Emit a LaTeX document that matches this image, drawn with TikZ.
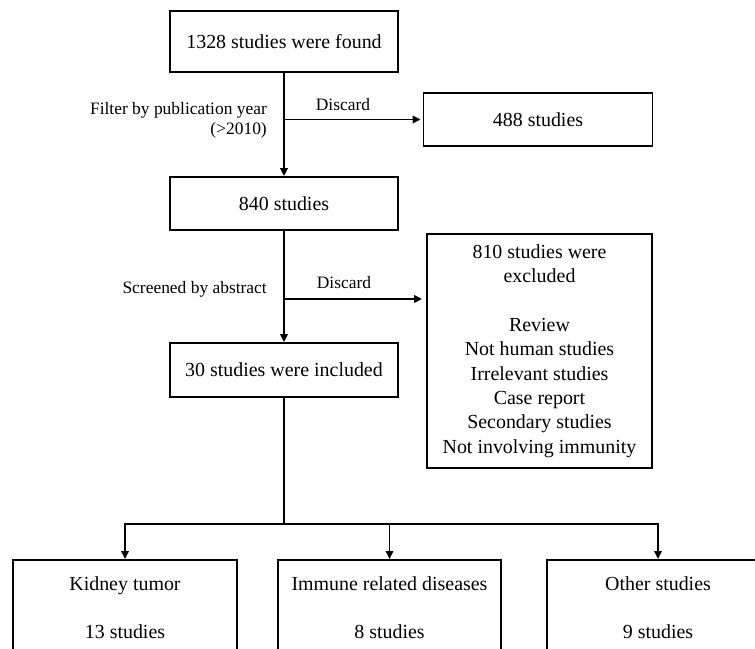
\documentclass[tikz,border=0pt]{standalone}
\usepackage{fontspec}
\setmainfont{Liberation Serif}
\usetikzlibrary{arrows.meta}
\begin{document}
\begin{tikzpicture}[x=1bp,y=-1bp,
  stage/.style={draw,line width=1.8bp,inner sep=0pt,align=center,font=\fontsize{20}{24.5}\selectfont},
  note/.style={inner sep=0pt,font=\fontsize{17.5}{20}\selectfont},
  flow/.style={line width=1.8bp,-{Triangle[length=8bp,width=7.5bp]}}]
\clip (0,0) rectangle (755,649);
\node[stage,minimum width=228bp,minimum height=61bp] (found) at (284,41.5) {1328 studies were found};
\node[stage,minimum width=229bp,minimum height=53bp] (left488) at (538,119.5) {488 studies};
\node[stage,minimum width=228bp,minimum height=53bp] (kept840) at (284,203.5) {840 studies};
\node[stage,minimum width=225bp,minimum height=234bp] (excl) at (539.5,351) {810 studies were\\excluded\\[24.5pt]Review\\Not human studies\\Irrelevant studies\\Case report\\Secondary studies\\Not involving immunity};
\node[stage,minimum width=228bp,minimum height=54bp] (incl) at (284,370) {30 studies were included};
\node[stage,minimum width=224bp,minimum height=96bp,anchor=north] (kidney) at (125,559) {Kidney tumor\\[23.5pt]13 studies};
\node[stage,minimum width=223bp,minimum height=96bp,anchor=north] (immune) at (389.5,559) {Immune related diseases\\[23.5pt]8 studies};
\node[stage,minimum width=222bp,minimum height=96bp,anchor=north] (other) at (658,559) {Other studies\\[23.5pt]9 studies};
\node[note,align=right,anchor=east] (filter) at (267,120) {Filter by publication year\\(>2010)};
\node[note] (disc1) at (343,105) {Discard};
\node[note,anchor=east] (screen) at (267,289) {Screened by abstract};
\node[note] (disc2) at (344,283) {Discard};
\coordinate (cut1) at (284,119.5);
\coordinate (cut2) at (284,299);
\coordinate (fork) at (284,524);
\draw[flow] (found) -- (kept840);
\draw[flow] (cut1) -- ([xshift=-2bp]left488.west);
\draw[flow] (kept840) -- (incl);
\draw[flow] (cut2) -- ([xshift=-4bp]cut2 -| excl.west);
\draw[line width=1.8bp] (incl) -- (fork);
\draw[flow] (fork) -| (kidney);
\draw[flow] (fork) -| (immune);
\draw[flow] (fork) -| (other);
\end{tikzpicture}
\end{document}
